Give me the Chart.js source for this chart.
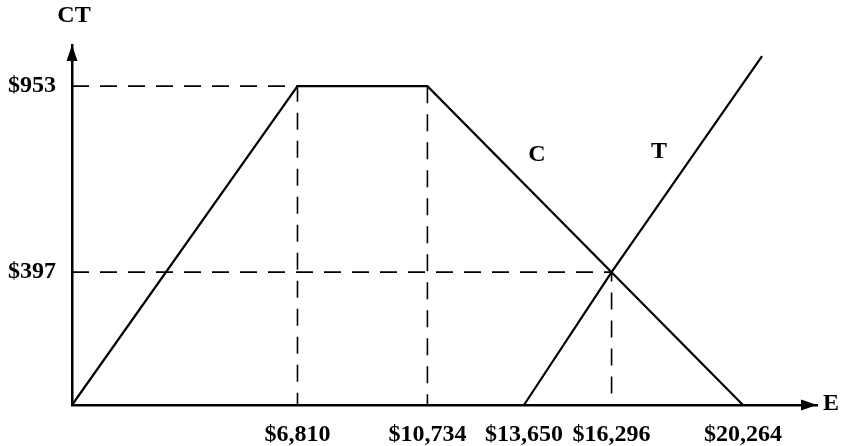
<!DOCTYPE html>
<html>
<head>
<meta charset="utf-8">
<script src="https://cdn.jsdelivr.net/npm/chart.js@4.4.0/dist/chart.umd.min.js"></script>
<style>
  html, body { margin: 0; padding: 0; background: #fff; }
  #wrap { width: 845px; height: 446px; }
</style>
</head>
<body>
<div id="wrap"><canvas id="chart" width="845" height="446"></canvas></div>
<script>
// values
var xTicks = [6810, 10734, 13650, 16296, 20264];
var yTicks = [397, 953];

// C line
var cX = [0, 6810, 10734, 20264];
var cY = [0, 953, 953, 0];

// T line
var tX = [13650, 16296, 20840];
var tY = [0, 397, 1043];

// dashed guides
var g953X = [0, 6810, 6810];
var g953Y = [953, 953, 0];
var g10734X = [10734, 10734];
var g10734Y = [953, 0];
var g397X = [0, 16296, 16296];
var g397Y = [397, 397, 0];

var xMax = 22500, yMax = 1076;

var serif = '"Liberation Serif", "Times New Roman", serif';

function pts(xs, ys) {
    return xs.map(function (x, i) { return {x: x, y: ys[i]}; });
}
function money(v) {
    return '$' + Number(v).toLocaleString('en-US');
}

function solid(xs, ys) {
    return {data: pts(xs, ys), borderColor: '#000', borderWidth: 2.2, pointRadius: 0, tension: 0, fill: false};
}
function dashed(xs, ys) {
    return {data: pts(xs, ys), borderColor: '#000', borderWidth: 1.6, borderDash: [17, 11], pointRadius: 0, tension: 0, fill: false};
}

// arrow heads and the free text labels
var extras = {
    id: 'extras',
    afterDraw: function (chart) {
        var ctx = chart.ctx, a = chart.chartArea;
        var xs = chart.scales.x, ys = chart.scales.y;
        ctx.save();
        ctx.fillStyle = '#000';

        ctx.beginPath();
        ctx.moveTo(a.right, a.bottom);
        ctx.lineTo(a.right - 16, a.bottom - 5.5);
        ctx.lineTo(a.right - 16, a.bottom + 5.5);
        ctx.closePath();
        ctx.fill();

        ctx.beginPath();
        ctx.moveTo(a.left, a.top);
        ctx.lineTo(a.left - 5.5, a.top + 16);
        ctx.lineTo(a.left + 5.5, a.top + 16);
        ctx.closePath();
        ctx.fill();

        ctx.font = 'bold 24px ' + serif;
        ctx.textBaseline = 'middle';
        ctx.textAlign = 'left';
        ctx.fillText('E', a.right + 6, a.bottom - 1);
        ctx.textAlign = 'center';
        ctx.fillText('CT', a.left + 2, 16);
        ctx.fillText('C', xs.getPixelForValue(14040), ys.getPixelForValue(747));
        ctx.fillText('T', xs.getPixelForValue(17730), ys.getPixelForValue(756));
        ctx.restore();
    }
};

var chart = new Chart(document.getElementById('chart').getContext('2d'), {
    type: 'line',
    data: {
        datasets: [
            dashed(g953X, g953Y),
            dashed(g10734X, g10734Y),
            dashed(g397X, g397Y),
            solid(cX, cY),
            solid(tX, tY)
        ]
    },
    options: {
        responsive: false,
        animation: false,
        clip: false,
        layout: {padding: {top: 45, right: 28, left: 0, bottom: 0}},
        plugins: {legend: {display: false}, tooltip: {enabled: false}},
        scales: {
            x: {
                type: 'linear',
                min: 0,
                max: xMax,
                grid: {display: false, drawTicks: false},
                border: {display: true, color: '#000', width: 2.5},
                afterBuildTicks: function (s) {
                    s.ticks = xTicks.map(function (v) { return {value: v}; });
                },
                afterFit: function (s) { s.height = 41; },
                ticks: {
                    callback: function (v) { return money(v); },
                    color: '#000',
                    font: {family: serif, size: 24, weight: 'bold'},
                    padding: 15,
                    maxRotation: 0,
                    autoSkip: false
                }
            },
            y: {
                type: 'linear',
                min: 0,
                max: yMax,
                grid: {display: false, drawTicks: false},
                border: {display: true, color: '#000', width: 2.5},
                afterBuildTicks: function (s) {
                    s.ticks = yTicks.map(function (v) { return {value: v}; });
                },
                afterFit: function (s) { s.width = 72; },
                ticks: {
                    callback: function (v) { return money(v); },
                    color: '#000',
                    font: {family: serif, size: 24, weight: 'bold'},
                    padding: 16,
                    autoSkip: false
                }
            }
        }
    },
    plugins: [extras]
});
</script>
</body>
</html>
